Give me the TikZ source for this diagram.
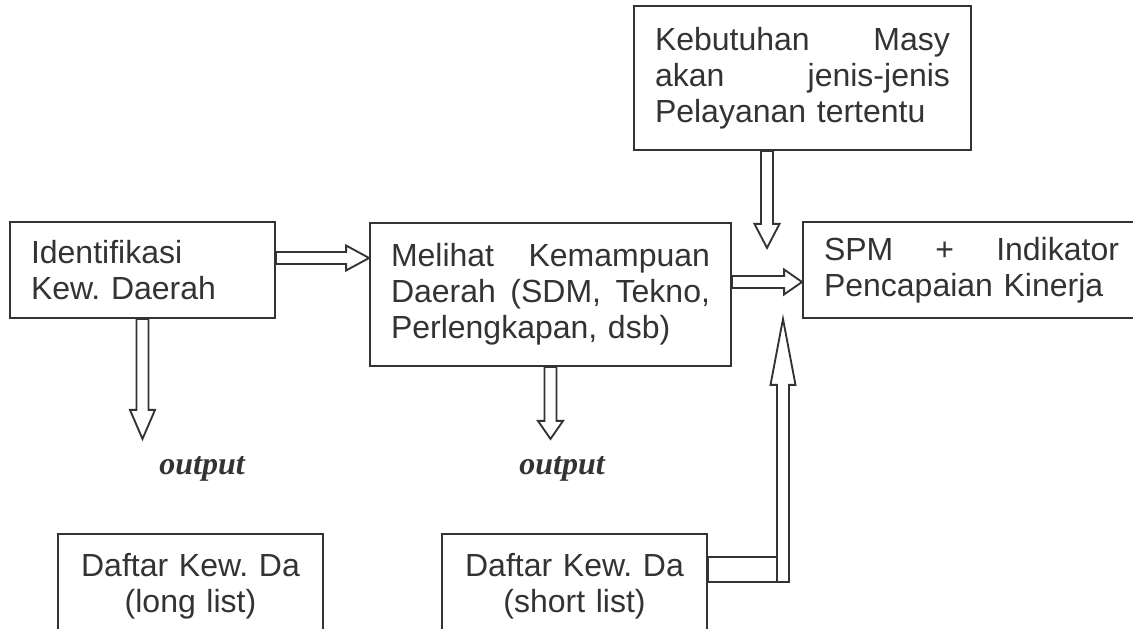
\documentclass[tikz,border=0pt]{standalone}
\usepackage{fontspec}
\setmainfont{Liberation Sans}
\newfontfamily\outfont{Liberation Serif}
\usetikzlibrary{calc}
\definecolor{ink}{HTML}{333333}
\frenchspacing

%% hollow block arrow: from, to, head length
\newcommand{\hollowarrow}[3]{%
  \draw let \p1=(#1), \p2=(#2),
    \n1={scalar(veclen(\x2-\x1,\y2-\y1))/0.375}, \n2={atan2(\y2-\y1,\x2-\x1)} in
    [shift={(\p1)}, rotate=\n2]
    (0,-6) -- (\n1-#3,-6) -- (\n1-#3,-12.5) -- (\n1,0)
    -- (\n1-#3,12.5) -- (\n1-#3,6) -- (0,6) -- cycle;}

\begin{document}
\begin{tikzpicture}[x=0.375pt, y=-0.375pt, color=ink, line width=0.7pt,
  box/.style={draw, inner xsep=7.875pt, inner ysep=0pt,
    font=\fontsize{12}{13.5}\selectfont},
  outlabel/.style={font=\outfont\bfseries\itshape\fontsize{12}{14}\selectfont}]
  \useasboundingbox (0,0) rectangle (1133,629);
  \clip (0,0) rectangle (1133,629);

  %% top row
  \node[box, text width=83.625pt, minimum height=36pt, align=left] (ident) at (142.5,270)
    {Identifikasi\\Kew. Daerah};
  \node[box, text width=119.625pt, minimum height=53.625pt, align=left] (mampu) at (550.5,294.5)
    {Melihat\hfill Kemampuan\\Daerah\hfill (SDM,\hfill Tekno,\\Perlengkapan, dsb)};
  \node[box, text width=110.625pt, minimum height=54pt, align=left] (butuh) at (802.5,78)
    {Kebutuhan\hfill Masy\\akan\hfill jenis-jenis\\Pelayanan tertentu};
  \node[box, text width=110.625pt, minimum height=36pt, align=left] (spm) at (971.5,270)
    {SPM\hfill +\hfill Indikator\\Pencapaian Kinerja};

  %% output
  \node[outlabel] (outlong) at (202,469) {output};
  \node[outlabel] (outshort) at (562,469) {output};

  %% bottom row
  \node[box, text width=83.625pt, minimum height=39pt, align=center] (long) at (190.5,586)
    {Daftar Kew. Da\\(long list)};
  \node[box, text width=83.625pt, minimum height=39pt, align=center] (short) at (574.5,586)
    {Daftar Kew. Da\\(short list)};

  %% arrows
  \coordinate (identout) at ($(ident.east)+(0,-12)$);
  \coordinate (mampuout) at ($(mampu.east)+(0,-12.5)$);
  \coordinate (butuhout) at ($(butuh.south)+(-35.5,0)$);
  \coordinate (riser) at (783,582);
  \hollowarrow{ident.south}{$(ident.south)+(0,120)$}{29}
  \hollowarrow{identout}{mampu.west |- identout}{23}
  \hollowarrow{mampu.south}{$(mampu.south)+(0,72)$}{18}
  \hollowarrow{mampuout}{spm.west |- mampuout}{18}
  \hollowarrow{butuhout}{$(butuhout)+(0,97)$}{24}
  \draw ($(short.north east)+(0,24)$) rectangle ($(riser)+(-6,0)$);
  \hollowarrow{riser}{riser |- spm.south}{66}

\end{tikzpicture}
\end{document}
